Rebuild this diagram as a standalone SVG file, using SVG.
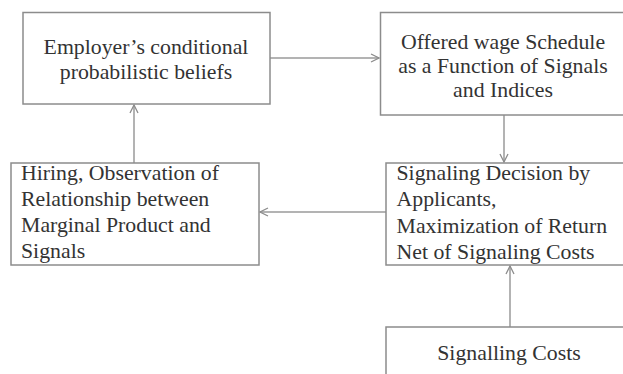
<svg xmlns="http://www.w3.org/2000/svg" width="623" height="374" viewBox="0 0 623 374">
<style>
.box{fill:#fff;stroke:#8c8c8c;stroke-width:1.5}
.t{font-family:"Liberation Serif","Times New Roman",serif;font-size:21.8px;fill:#333}
.c{text-anchor:middle}
.conn{stroke:#9a9a9a;stroke-width:1.5;fill:none}
</style>
<defs>
<marker id="ah" viewBox="0 0 10 10" refX="9" refY="5" markerWidth="10" markerHeight="10" markerUnits="userSpaceOnUse" orient="auto">
<path d="M1,1 L9,5 L1,9" fill="none" stroke="#8c8c8c" stroke-width="1.3"/>
</marker>
</defs>
<rect width="623" height="374" fill="#fff"/>
<g id="connectors">
<line class="conn" x1="270" y1="58" x2="379" y2="58" marker-end="url(#ah)"/>
<line class="conn" x1="504" y1="115" x2="504" y2="162" marker-end="url(#ah)"/>
<line class="conn" x1="386" y1="212" x2="260" y2="212" marker-end="url(#ah)"/>
<line class="conn" x1="134" y1="163" x2="134" y2="105" marker-end="url(#ah)"/>
<line class="conn" x1="510" y1="327" x2="510" y2="266" marker-end="url(#ah)"/>
</g>
<g id="employer">
<rect class="box" x="23" y="12.5" width="247" height="91.5"/>
<text class="t c" x="146" y="54">Employer’s conditional</text>
<text class="t c" x="146" y="79">probabilistic beliefs</text>
</g>
<g id="wage">
<rect class="box" x="380.5" y="12.5" width="250" height="102.5"/>
<text class="t c" x="503" y="49">Offered wage Schedule</text>
<text class="t c" x="503" y="73">as a Function of Signals</text>
<text class="t c" x="503" y="97">and Indices</text>
</g>
<g id="signaling">
<rect class="box" x="386" y="163" width="245" height="102"/>
<text class="t" x="396.5" y="180">Signaling Decision by</text>
<text class="t" x="396.5" y="206">Applicants,</text>
<text class="t" x="396.5" y="233">Maximization of Return</text>
<text class="t" x="396.5" y="259">Net of Signaling Costs</text>
</g>
<g id="hiring">
<rect class="box" x="11" y="163" width="248" height="102"/>
<text class="t" x="21" y="180">Hiring, Observation of</text>
<text class="t" x="21" y="206">Relationship between</text>
<text class="t" x="21" y="232">Marginal Product and</text>
<text class="t" x="21" y="258">Signals</text>
</g>
<g id="costs">
<rect class="box" x="386" y="327" width="245" height="60"/>
<text class="t c" x="509" y="360">Signalling Costs</text>
</g>
</svg>
